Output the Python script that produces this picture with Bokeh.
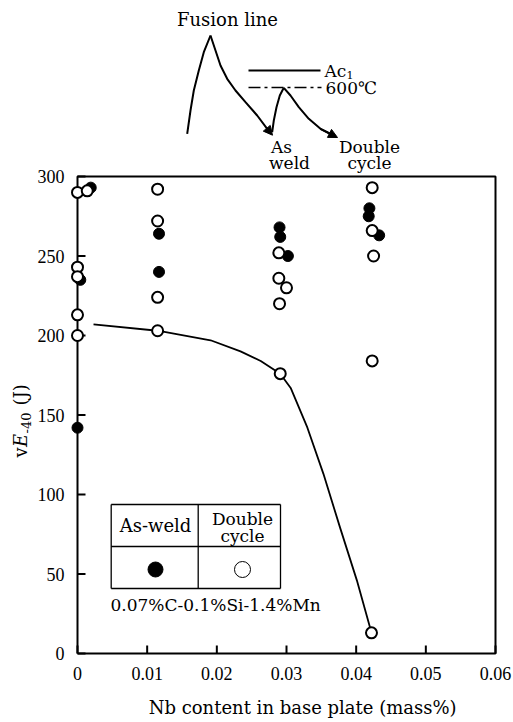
import math
from bokeh.plotting import figure
from bokeh.models import Range1d, FixedTicker, Label, Arrow, NormalHead, CustomJSTickFormatter, LinearAxis
from bokeh.embed import file_html
from bokeh.resources import INLINE

# ---------------- data ----------------
nb_as_weld = [0.0004, 0.0, 0.0019, 0.0117, 0.0117, 0.0290, 0.0291, 0.0302, 0.0419, 0.0418, 0.0433]
ve_as_weld = [235, 142, 293, 264, 240, 268, 262, 250, 280, 275, 263]

nb_double = [0.0, 0.0, 0.0, 0.0, 0.0, 0.0014, 0.0115, 0.0115, 0.0115, 0.0115,
             0.0289, 0.0289, 0.0300, 0.0290, 0.0291, 0.0423, 0.0423, 0.0425, 0.0423, 0.0422]
ve_double = [290, 243, 237, 213, 200, 291, 292, 272, 224, 203,
             252, 236, 230, 220, 176, 293, 266, 250, 184, 13]

curve_nb = [0.0023, 0.0115, 0.0191, 0.0234, 0.0263, 0.0291, 0.0306, 0.0330, 0.0353, 0.0377, 0.0401, 0.0422]
curve_ve = [207, 203, 197, 190, 184, 176, 167, 142, 113, 79, 46, 13]

x_ticks = [0, 0.01, 0.02, 0.03, 0.04, 0.05, 0.06]
y_ticks = [0, 50, 100, 150, 200, 250, 300]
X_MIN, X_MAX, Y_MIN, Y_MAX = 0.0, 0.06, 0.0, 300.0

# schematic (illustration) in canvas pixel coordinates
rise1_x = [186.7, 190, 193.3, 198.3, 203.3, 210]
rise1_y = [133.3, 110, 90, 70, 51.7, 35]
decay1_x = [210, 215, 220, 226.7, 235, 245, 256.7, 266.7, 270]
decay1_y = [35, 50, 65, 78.3, 90, 101.7, 115, 128.3, 132.7]
rise2_x = [271.7, 273.3, 276, 279.3, 283.3]
rise2_y = [131.7, 120, 106.7, 95, 87.3]
decay2_x = [283.3, 290, 298.3, 308.3, 320, 335]
decay2_y = [87.3, 95, 106.7, 118.3, 128.3, 136]

SERIF = "DejaVu Serif"
TICKFONT = "Liberation Serif"

W, H = 512, 720
# plot box position on the canvas (pixels)
BOX_L, BOX_R, BOX_T, BOX_B = 77, 495, 176, 653
px_x = (BOX_R - BOX_L) / (X_MAX - X_MIN)
px_y = (BOX_B - BOX_T) / (Y_MAX - Y_MIN)
TICK_LEN = 8

p = figure(width=W, height=H, x_range=Range1d(0, W), y_range=Range1d(H, 0),
           min_border=0, toolbar_location=None, output_backend="svg",
           x_axis_location=None, y_axis_location=None)
p.grid.visible = False
p.outline_line_color = None
p.extra_x_ranges = {"nb": Range1d(X_MIN - BOX_L / px_x, X_MIN + (W - BOX_L) / px_x)}
p.extra_y_ranges = {"ve": Range1d(Y_MIN - (H - BOX_B) / px_y, Y_MIN + BOX_B / px_y)}

xa = LinearAxis(x_range_name="nb", y_range_name="ve", fixed_location=0,
                ticker=FixedTicker(ticks=x_ticks),
                formatter=CustomJSTickFormatter(code="return tick == 0 ? '0' : tick.toFixed(2);"))
ya = LinearAxis(x_range_name="nb", y_range_name="ve", fixed_location=0,
                ticker=FixedTicker(ticks=y_ticks))
for ax in (xa, ya):
    ax.axis_line_color = None
    ax.major_tick_in = 0
    ax.major_tick_out = 0
    ax.major_tick_line_color = None
    ax.minor_tick_line_color = None
    ax.major_label_text_font = TICKFONT
    ax.major_label_text_font_size = "18px"
    ax.major_label_text_color = "black"
    ax.major_label_standoff = 13
p.add_layout(xa, "below")
p.add_layout(ya, "left")

# plot box
p.line([X_MIN, X_MIN, X_MAX, X_MAX, X_MIN], [Y_MIN, Y_MAX, Y_MAX, Y_MIN, Y_MIN],
       x_range_name="nb", y_range_name="ve", line_color="black", line_width=2)

# inward tick marks at the axis tick positions
p.multi_line([[t, t] for t in x_ticks], [[Y_MIN, Y_MIN + TICK_LEN / px_y] for t in x_ticks],
             x_range_name="nb", y_range_name="ve", line_color="black", line_width=2)
p.multi_line([[X_MIN, X_MIN + TICK_LEN / px_x] for t in y_ticks], [[t, t] for t in y_ticks],
             x_range_name="nb", y_range_name="ve", line_color="black", line_width=2)

# fitted curve
p.line(curve_nb, curve_ve, x_range_name="nb", y_range_name="ve", line_color="black", line_width=1.8)

# data points
p.scatter(nb_as_weld, ve_as_weld, x_range_name="nb", y_range_name="ve", marker="circle", size=11,
          fill_color="black", line_color="black", line_width=1)
p.scatter(nb_double, ve_double, x_range_name="nb", y_range_name="ve", marker="circle", size=11,
          fill_color="white", line_color="black", line_width=2)

def tlabel(x, y, text, size="17px", align="left", style="normal", angle=0.0, font=SERIF):
    p.add_layout(Label(x=x, y=y, text=text, text_font=font, text_font_size=size,
                       text_align=align, text_baseline="middle", text_font_style=style,
                       angle=angle, text_color="black"))

# ---- schematic of thermal cycles ----
for xs, ys in [(rise1_x, rise1_y), (decay1_x, decay1_y), (rise2_x, rise2_y), (decay2_x, decay2_y)]:
    p.line(xs, ys, line_color="black", line_width=2)
p.add_layout(Arrow(end=NormalHead(size=9, fill_color="black", line_color="black"),
                   x_start=decay1_x[-2], y_start=decay1_y[-2], x_end=decay1_x[-1] + 2, y_end=decay1_y[-1] + 2,
                   line_width=2, line_color="black"))
p.add_layout(Arrow(end=NormalHead(size=9, fill_color="black", line_color="black"),
                   x_start=decay2_x[-2], y_start=decay2_y[-2], x_end=decay2_x[-1] + 2, y_end=decay2_y[-1] + 1,
                   line_width=2, line_color="black"))
p.line([248, 320], [70, 70], line_color="black", line_width=2)
p.line([248, 321], [87, 87], line_color="black", line_width=1.6, line_dash="12 4 3 4")

tlabel(227, 19, "Fusion line", size="18px", align="center")
tlabel(324, 70, "Ac")
tlabel(346, 74, "1", size="11px")
tlabel(325, 87, "600℃")
tlabel(281, 146, "As", align="center")
tlabel(289, 162.5, "weld", align="center")
tlabel(369, 146, "Double", align="center")
tlabel(369, 162.5, "cycle", align="center")

# ---- legend table ----
lx = [110.7, 197.7, 280]
ly = [504, 546, 588]
p.multi_line([[lx[0], lx[2]], [lx[0], lx[2]], [lx[0], lx[2]], [lx[0], lx[0]], [lx[1], lx[1]], [lx[2], lx[2]]],
             [[ly[0], ly[0]], [ly[1], ly[1]], [ly[2], ly[2]], [ly[0], ly[2]], [ly[0], ly[2]], [ly[0], ly[2]]],
             line_color="black", line_width=1.3)
tlabel(155, 525, "As-weld", size="18px", align="center")
tlabel(242, 518, "Double", align="center")
tlabel(242, 535, "cycle", align="center")
p.scatter([155], [569], marker="circle", size=15, fill_color="black", line_color="black")
p.scatter([242], [569], marker="circle", size=16, fill_color="white", line_color="black", line_width=1)
tlabel(110, 604, "0.07%C-0.1%Si-1.4%Mn")

# ---- axis titles ----
tlabel(305, 707, "Nb content in base plate  (mass%)", size="18px", align="center")
ang = math.pi / 2
tlabel(20, 457, "v", size="18px", angle=ang)
tlabel(20, 446.5, "E", size="18px", angle=ang, style="italic")
tlabel(25, 433, "-40", size="13px", angle=ang)
tlabel(20, 405, "(J)", size="18px", angle=ang)

open("out.html", "w").write(file_html(p, INLINE))
